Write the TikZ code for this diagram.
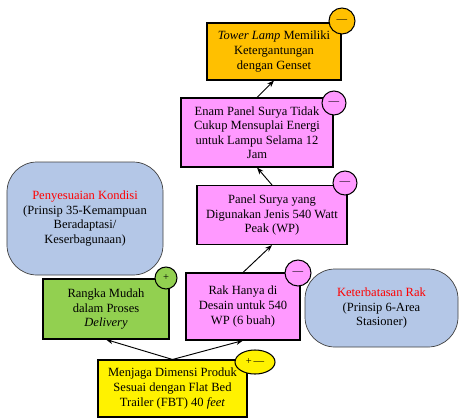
\documentclass[tikz,border=0pt]{standalone}
\usepackage{fontspec}
\setmainfont{Liberation Serif}
\usetikzlibrary{shapes.geometric,arrows.meta}
\definecolor{boxorange}{RGB}{255,192,0}
\definecolor{boxpink}{RGB}{255,153,255}
\definecolor{boxgreen}{RGB}{146,208,80}
\definecolor{boxblue}{RGB}{180,199,231}

\begin{document}
\begin{tikzpicture}[x=0.03cm,y=-0.03cm,font=\fontsize{10.7}{12.4}\selectfont,
    box/.style={draw=black,line width=0.9pt,align=center,inner sep=1pt},
    sign/.style={draw=black,line width=0.9pt,circle,inner sep=0pt,minimum size=0.72cm,font=\small},
    idea/.style={draw=black!75,line width=0.6pt,rounded corners=0.9cm,fill=boxblue,align=center},
    link/.style={-{Stealth[length=6pt,width=4.5pt]},line width=0.8pt}]
        \useasboundingbox (0,0) rectangle (460,419);
        \node[box,fill=boxorange,minimum width=4.02cm,minimum height=1.71cm] (tower) at (274,51.5) {\textit{Tower Lamp} Memiliki\\Ketergantungan\\dengan Genset};
        \node[box,fill=boxpink,minimum width=4.56cm,minimum height=2.07cm] (enam) at (257,132.5) {Enam Panel Surya Tidak\\Cukup Mensuplai Energi\\untuk Lampu Selama 12\\Jam};
        \node[box,fill=boxpink,minimum width=4.5cm,minimum height=1.77cm] (panel) at (272,215) {Panel Surya yang\\Digunakan Jenis 540 Watt\\Peak (WP)};
        \node[box,fill=boxpink,minimum width=3.42cm,minimum height=2.01cm] (rak) at (243,306.5) {Rak Hanya di\\Desain untuk 540\\WP (6 buah)};
        \node[box,fill=boxgreen,minimum width=3.78cm,minimum height=1.8cm] (rangka) at (106,309) {Rangka Mudah\\dalam Proses\\\textit{Delivery}};
        \node[box,fill=yellow,minimum width=4.47cm,minimum height=1.71cm] (menjaga) at (172.5,388.5) {Menjaga Dimensi Produk\\Sesuai dengan Flat Bed\\Trailer (FBT) 40 \textit{feet}};
        \node[idea,minimum width=4.68cm,minimum height=3.39cm] (penyesuaian) at (85,218.5) {\textcolor{red}{Penyesuaian Kondisi}\\(Prinsip 35-Kemampuan\\Beradaptasi/\\Keserbagunaan)};
        \node[idea,minimum width=4.59cm,minimum height=2.34cm] (keterbatasan) at (381.5,308) {\textcolor{red}{Keterbatasan Rak}\\(Prinsip 6-Area\\Stasioner)};
        \draw[link] (menjaga.north) -- (rangka.south);
        \draw[link] (menjaga.north) -- (rak.south);
        \draw[link] (rak.north) -- (panel.south);
        \draw[link] (panel.north) -- (enam.south);
        \draw[link] (enam.north) -- (tower.south);
        \node[sign,fill=boxorange,minimum size=0.78cm] (towersign) at (342,21) {—};
        \node[sign,fill=boxpink] (enamsign) at (334,103) {—};
        \node[sign,fill=boxpink] (panelsign) at (345,183) {—};
        \node[sign,fill=boxpink,minimum size=0.78cm] (raksign) at (298,273) {—};
        \node[sign,fill=boxgreen,minimum size=0.66cm] (rangkasign) at (166,278) {+};
        \node[sign,ellipse,fill=yellow,minimum width=1.2cm,minimum height=0.72cm] (menjagasign) at (255,362) {+\,—};
\end{tikzpicture}
\end{document}
